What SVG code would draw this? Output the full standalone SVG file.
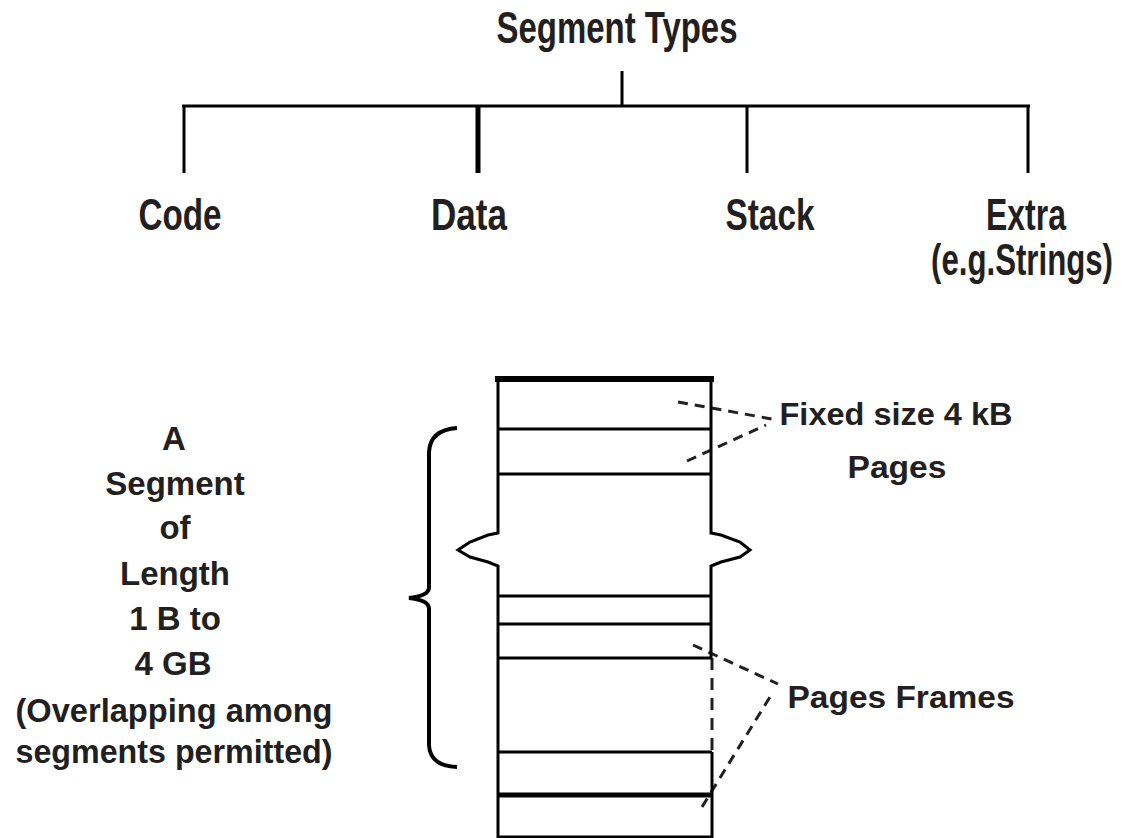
<svg xmlns="http://www.w3.org/2000/svg" width="1124" height="838" viewBox="0 0 1124 838">
<style>
.t{font-family:"Liberation Sans",Arial,sans-serif;font-weight:bold;fill:#231f20;text-anchor:middle}
.big{font-size:44px}
.mid{font-size:32px}
.ln{stroke:#000;fill:none;stroke-width:3}
.thk{stroke-width:5}
.thk6{stroke-width:6}
.br{stroke-width:4}
.dash{stroke:#231f20;fill:none;stroke-width:3;stroke-dasharray:10 7}
.vd{stroke-dasharray:12 8}
</style>
<rect width="1124" height="838" fill="#fff"/>
<g id="connectors">
<line class="ln" x1="622" y1="71" x2="622" y2="106"/>
<line class="ln" x1="182" y1="106" x2="1030" y2="106"/>
<line class="ln" x1="184" y1="106" x2="184" y2="173"/>
<line class="ln thk" x1="478" y1="106" x2="478" y2="173"/>
<line class="ln" x1="747" y1="106" x2="747" y2="173"/>
<line class="ln" x1="1028" y1="106" x2="1028" y2="173"/>
<line class="dash" x1="678" y1="402" x2="772" y2="419"/>
<line class="dash" x1="687" y1="461" x2="766" y2="425"/>
<line class="dash" x1="693" y1="645" x2="778" y2="684"/>
<line class="dash" x1="702" y1="807" x2="770" y2="697"/>
</g>
<g id="title"><text class="t big" x="617" y="43" textLength="241" lengthAdjust="spacingAndGlyphs">Segment Types</text></g>
<g id="code"><text class="t big" x="180" y="230" textLength="83" lengthAdjust="spacingAndGlyphs">Code</text></g>
<g id="data"><text class="t big" x="469" y="230" textLength="76" lengthAdjust="spacingAndGlyphs">Data</text></g>
<g id="stack"><text class="t big" x="770" y="230" textLength="89" lengthAdjust="spacingAndGlyphs">Stack</text></g>
<g id="extra">
<text class="t big" x="1026" y="230" textLength="80" lengthAdjust="spacingAndGlyphs">Extra</text>
<text class="t big" x="1022" y="275" textLength="182" lengthAdjust="spacingAndGlyphs">(e.g.Strings)</text>
</g>
<g id="segment-box">
<path class="ln thk6" d="M495,379 L714,379"/>
<path class="ln" d="M498,378 L498,533 L488,535 L470,542 L458,550 L470,557 L488,562 L498,566 L498,837 L712,837 L712,752"/>
<path class="ln" d="M711,378 L711,533 L721,535 L740,542 L750,550 L740,557 L721,562 L711,566 L711,658"/>
<line class="dash vd" x1="712" y1="658" x2="712" y2="752"/>
<line class="ln" x1="498" y1="429" x2="711" y2="429"/>
<line class="ln" x1="498" y1="474" x2="711" y2="474"/>
<line class="ln" x1="498" y1="596" x2="711" y2="596"/>
<line class="ln" x1="498" y1="624" x2="711" y2="624"/>
<line class="ln" x1="498" y1="658" x2="712" y2="658"/>
<line class="ln" x1="498" y1="752" x2="712" y2="752"/>
<line class="ln thk" x1="498" y1="795" x2="712" y2="795"/>
</g>
<g id="brace">
<path class="ln br" d="M457,428 Q430,430 429,452 L429,588 Q428,596 409,598 Q428,600 429,608 L429,745 Q430,766 457,767"/>
</g>
<g id="segment-label" class="t" style="font-size:33px">
<text x="174" y="450">A</text>
<text x="175" y="495">Segment</text>
<text x="175" y="539">of</text>
<text x="175" y="585">Length</text>
<text x="175" y="630">1 B to</text>
<text x="173" y="675">4 GB</text>
<text x="174" y="722" textLength="317" lengthAdjust="spacingAndGlyphs">(Overlapping among</text>
<text x="174" y="763" textLength="317" lengthAdjust="spacingAndGlyphs">segments permitted)</text>
</g>
<g id="fixed-pages">
<text class="t mid" x="896" y="425" textLength="233" lengthAdjust="spacingAndGlyphs">Fixed size 4 kB</text>
<text class="t mid" x="897" y="478" textLength="99" lengthAdjust="spacingAndGlyphs">Pages</text>
</g>
<g id="page-frames">
<text class="t mid" x="901" y="708" textLength="227" lengthAdjust="spacingAndGlyphs">Pages Frames</text>
</g>
</svg>
